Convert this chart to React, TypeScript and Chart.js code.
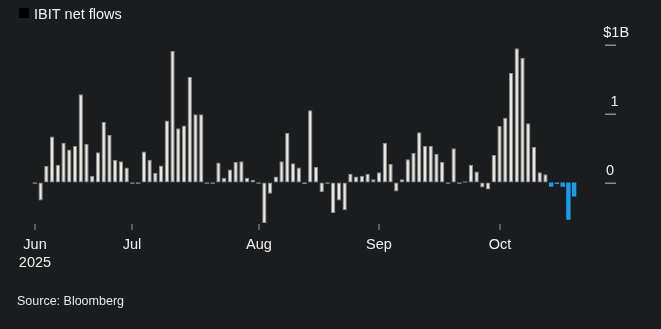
import React, { useEffect, useRef } from "react";
import { Chart, registerables } from "chart.js";

Chart.register(...registerables);

// ---- data ($ billions, daily net flows) ----
const months = ["Jun", "Jul", "Aug", "Sep", "Oct"];
const firstYear = "2025";
const tradingDaysPerMonth = [17, 22, 21, 21, 14];

const junFlows = [-0.015, -0.26, 0.24, 0.67, 0.26, 0.58, 0.48, 0.53, 1.28, 0.56, 0.1, 0.44, 0.88, 0.69, 0.33, 0.31, 0.22];
const julFlows = [-0.015, -0.015, 0.45, 0.33, 0.14, 0.25, 0.9, 1.91, 0.79, 0.83, 1.53, 0.99, 0.99, -0.015, -0.015, 0.29, 0.07, 0.19, 0.3, 0.31, 0.07, 0.04];
const augFlows = [-0.015, -0.59, -0.16, 0.09, 0.31, 0.72, 0.28, 0.22, -0.02, 1.05, 0.23, -0.14, -0.015, -0.44, -0.26, -0.4, 0.13, 0.09, 0.1, 0.13, 0.05];
const sepFlows = [0.15, 0.58, 0.27, -0.13, 0.05, 0.34, 0.43, 0.73, 0.53, 0.53, 0.42, 0.3, -0.015, 0.5, -0.015, 0.015, 0.26, 0.16, -0.07, -0.1, 0.4];
const octFlows = [0.82, 0.94, 1.59, 1.95, 1.81, 0.86, 0.52, 0.15, 0.12, -0.06, -0.02, -0.06, -0.54, -0.2];

const recentDays = 5; // shown in blue
const yTickValues = [0, 1, 2];
const yTickLabels = ["0", "1", "$1B"];

const flows = [...junFlows, ...julFlows, ...augFlows, ...sepFlows, ...octFlows];
const categories: string[] = [];
const monthStarts: number[] = [];
months.forEach((m, mi) => {
  monthStarts.push(categories.length);
  for (let d = 0; d < tradingDaysPerMonth[mi]; d++) categories.push(`${m} day ${d + 1}`);
});

const FONT = "'Liberation Sans', Arial, Helvetica, sans-serif";
const BG = "#1b1c1e";

const overlay = {
  id: "overlay",
  beforeDraw(chart: any) {
    const { ctx, width, height } = chart;
    ctx.save();
    ctx.fillStyle = BG;
    ctx.fillRect(0, 0, width, height);
    ctx.restore();
  },
  afterDraw(chart: any) {
    const { ctx } = chart;
    const x = chart.scales.x;
    const y = chart.scales.y;
    ctx.save();
    // legend / title
    ctx.fillStyle = "#000000";
    ctx.fillRect(19, 8, 10, 10);
    ctx.font = `14.5px ${FONT}`;
    ctx.fillStyle = "#f2f2f2";
    ctx.textAlign = "left";
    ctx.textBaseline = "alphabetic";
    ctx.fillText("IBIT net flows", 34, 19);

    // y ticks (right side)
    const labelX = [606, 610.5, 603.3];
    yTickValues.forEach((v, i) => {
      const py = Math.round(y.getPixelForValue(v));
      ctx.fillStyle = "#8a8a8a";
      ctx.fillRect(605, py - 0.5, 11, 1.5);
      ctx.fillStyle = "#f0f0f0";
      ctx.font = `14.5px ${FONT}`;
      ctx.textAlign = "left";
      ctx.fillText(yTickLabels[i], labelX[i], py - 8);
    });

    // x ticks at month starts
    monthStarts.forEach((idx, mi) => {
      const px = Math.round(x.getPixelForValue(idx));
      ctx.fillStyle = "#9a9a9a";
      ctx.fillRect(px - 0.5, 224, 1, 6);
      ctx.fillStyle = "#f0f0f0";
      ctx.font = `14.5px ${FONT}`;
      ctx.textAlign = "center";
      ctx.fillText(months[mi], px, 249);
      if (mi === 0) ctx.fillText(firstYear, px, 267);
    });

    // source
    ctx.textAlign = "left";
    ctx.font = `12.5px ${FONT}`;
    ctx.fillStyle = "#e6e6e6";
    ctx.fillText("Source: Bloomberg", 17, 305);
    ctx.restore();
  },
};

export default function App() {
  const ref = useRef<HTMLCanvasElement | null>(null);
  useEffect(() => {
    document.body.style.margin = "0";
    document.body.style.background = BG;
    if (!ref.current) return;
    const n = flows.length;
    const isRecent = (i: number) => i >= n - recentDays;
    const isTiny = (i: number) => Math.abs(flows[i]) < 0.03;
    const chart = new Chart(ref.current, {
      type: "bar",
      data: {
        labels: categories,
        datasets: [
          {
            data: flows,
            backgroundColor: (c: any) =>
              isRecent(c.dataIndex) ? "#12a0ec" : isTiny(c.dataIndex) ? "#8f8f8c" : "#e9e9e4",
            borderColor: (c: any) => (isRecent(c.dataIndex) ? "#12a0ec" : "#8c8c8a"),
            borderWidth: (c: any) => (isRecent(c.dataIndex) || isTiny(c.dataIndex) ? 0 : 1),
            borderSkipped: false,
            barPercentage: 0.755,
            categoryPercentage: 1,
          },
        ],
      },
      options: {
        animation: false,
        responsive: false,
        devicePixelRatio: 1,
        layout: { padding: { left: 32, right: 84, top: 44.7, bottom: 105 } },
        plugins: { legend: { display: false }, tooltip: { enabled: false }, title: { display: false } },
        scales: {
          x: { type: "category", display: false, offset: true, grid: { display: false } },
          y: { display: false, min: -0.6, max: 2.0, grid: { display: false } },
        },
      } as any,
      plugins: [overlay],
    });
    return () => chart.destroy();
  }, []);
  return (
    <div style={{ width: 661, height: 329, background: BG }}>
      <canvas ref={ref} width={661} height={329} style={{ display: "block" }} />
    </div>
  );
}
